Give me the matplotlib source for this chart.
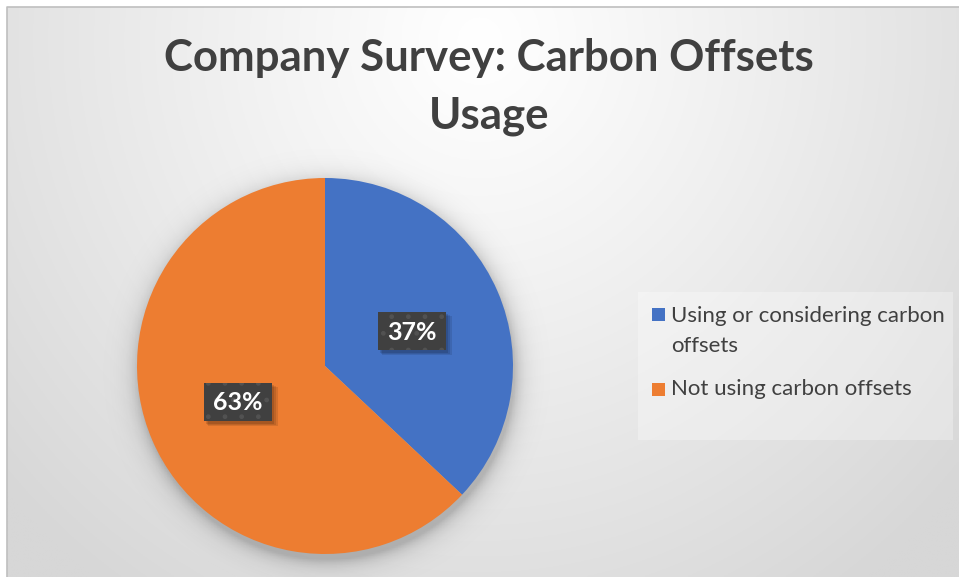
import numpy as np
import matplotlib
matplotlib.use("Agg")
import matplotlib.pyplot as plt
from matplotlib.patches import Rectangle

# ---- data ----
title_lines = ["Company Survey: Carbon Offsets", "Usage"]
categories = ["Using or considering carbon\noffsets", "Not using carbon offsets"]
values = [37, 63]
pct_labels = ["37%", "63%"]
colors = ["#4472C4", "#ED7D31"]

W, H = 959, 577
FONT = "Lato"
TXT = "#404040"

fig = plt.figure(figsize=(W / 100, H / 100), dpi=100)
ax = fig.add_axes([0, 0, 1, 1])

def Y(y):
    return H - y

fig.patch.set_facecolor("white")
x0, y0 = 7, 7
xs = np.linspace(x0, W, 400)
ys = np.linspace(y0, H, 300)
XX, YY = np.meshgrid(xs, ys)
d = np.sqrt((XX - 480) ** 2 + ((YY - 40) / 1.05) ** 2)
t = np.clip(d / 640.0, 0, 1) ** 1.1
v = (255 - 40 * t) / 255.0
img = np.dstack([v, v, v])
ax.imshow(img, extent=[x0, W, Y(H), Y(y0)], origin="upper", aspect="auto", zorder=0)
ax.plot([x0, x0, W], [Y(H), Y(y0), Y(y0)], color="#bfbfbf", lw=1.2, zorder=1)

# pie shadow (soft)
cx, cy, R = 325, 366, 188
sxs = np.linspace(cx - R - 40, cx + R + 40, 300)
sys_ = np.linspace(cy - R - 40, cy + R + 50, 300)
SX, SY = np.meshgrid(sxs, sys_)
dd = np.sqrt((SX - cx - 2) ** 2 + (SY - cy - 6) ** 2) - R
alpha = np.clip(0.22 * np.exp(-np.clip(dd, 0, None) / 9.0), 0, 1)
alpha[dd < 0] = 0.22
shadow = np.zeros((300, 300, 4))
shadow[..., 3] = alpha
ax.imshow(shadow, extent=[sxs[0], sxs[-1], Y(sys_[-1]), Y(sys_[0])], origin="upper",
          aspect="auto", zorder=2)

# pie
ax.pie(values, colors=colors, startangle=90, counterclock=False, center=(cx, Y(cy)),
       radius=R, frame=True, wedgeprops=dict(linewidth=0, zorder=3))
ax.set_xlim(0, W)
ax.set_ylim(0, H)
ax.set_aspect("auto")
ax.axis("off")

# data labels with dark patterned boxes (soft shadow)
label_pos = [(412, 331), (238, 402)]
bw, bh = 68, 38
for (lx, ly), lab in zip(label_pos, pct_labels):
    for k, a in enumerate([0.10, 0.10, 0.12]):
        off = 5 - k
        ax.add_patch(Rectangle((lx - bw / 2 + off - 1, Y(ly + bh / 2 + off)), bw + 2 - k, bh + 1,
                               facecolor="black", alpha=a, lw=0, zorder=4))
    ax.add_patch(Rectangle((lx - bw / 2, Y(ly + bh / 2)), bw, bh,
                           facecolor="#404040", edgecolor="#525252", hatch=".",
                           lw=0, zorder=5))
    ax.text(lx, Y(ly + 1), lab, color="white", fontsize=18, fontweight="bold",
            family=FONT, ha="center", va="center", zorder=6)

# title
for line, base in zip(title_lines, [71, 129]):
    ax.text(489, Y(base), line, color=TXT, fontsize=31.5, fontweight="bold", family=FONT,
            ha="center", va="baseline", zorder=6)

# legend
ax.add_patch(Rectangle((638, Y(440)), 315, 148, facecolor="white", alpha=0.3, lw=0, zorder=4))
sq = 13
legend_rows = [(308, 322), (383, 395)]
for (top, base), c, lab in zip(legend_rows, colors, categories):
    ax.add_patch(Rectangle((652, Y(top + sq)), sq, sq, facecolor=c, lw=0, zorder=5))
    for i, part in enumerate(lab.split("\n")):
        ax.text(671, Y(base + 30 * i), part, color=TXT, fontsize=16, family=FONT,
                ha="left", va="baseline", zorder=6)

fig.savefig("out.png", dpi=100)
